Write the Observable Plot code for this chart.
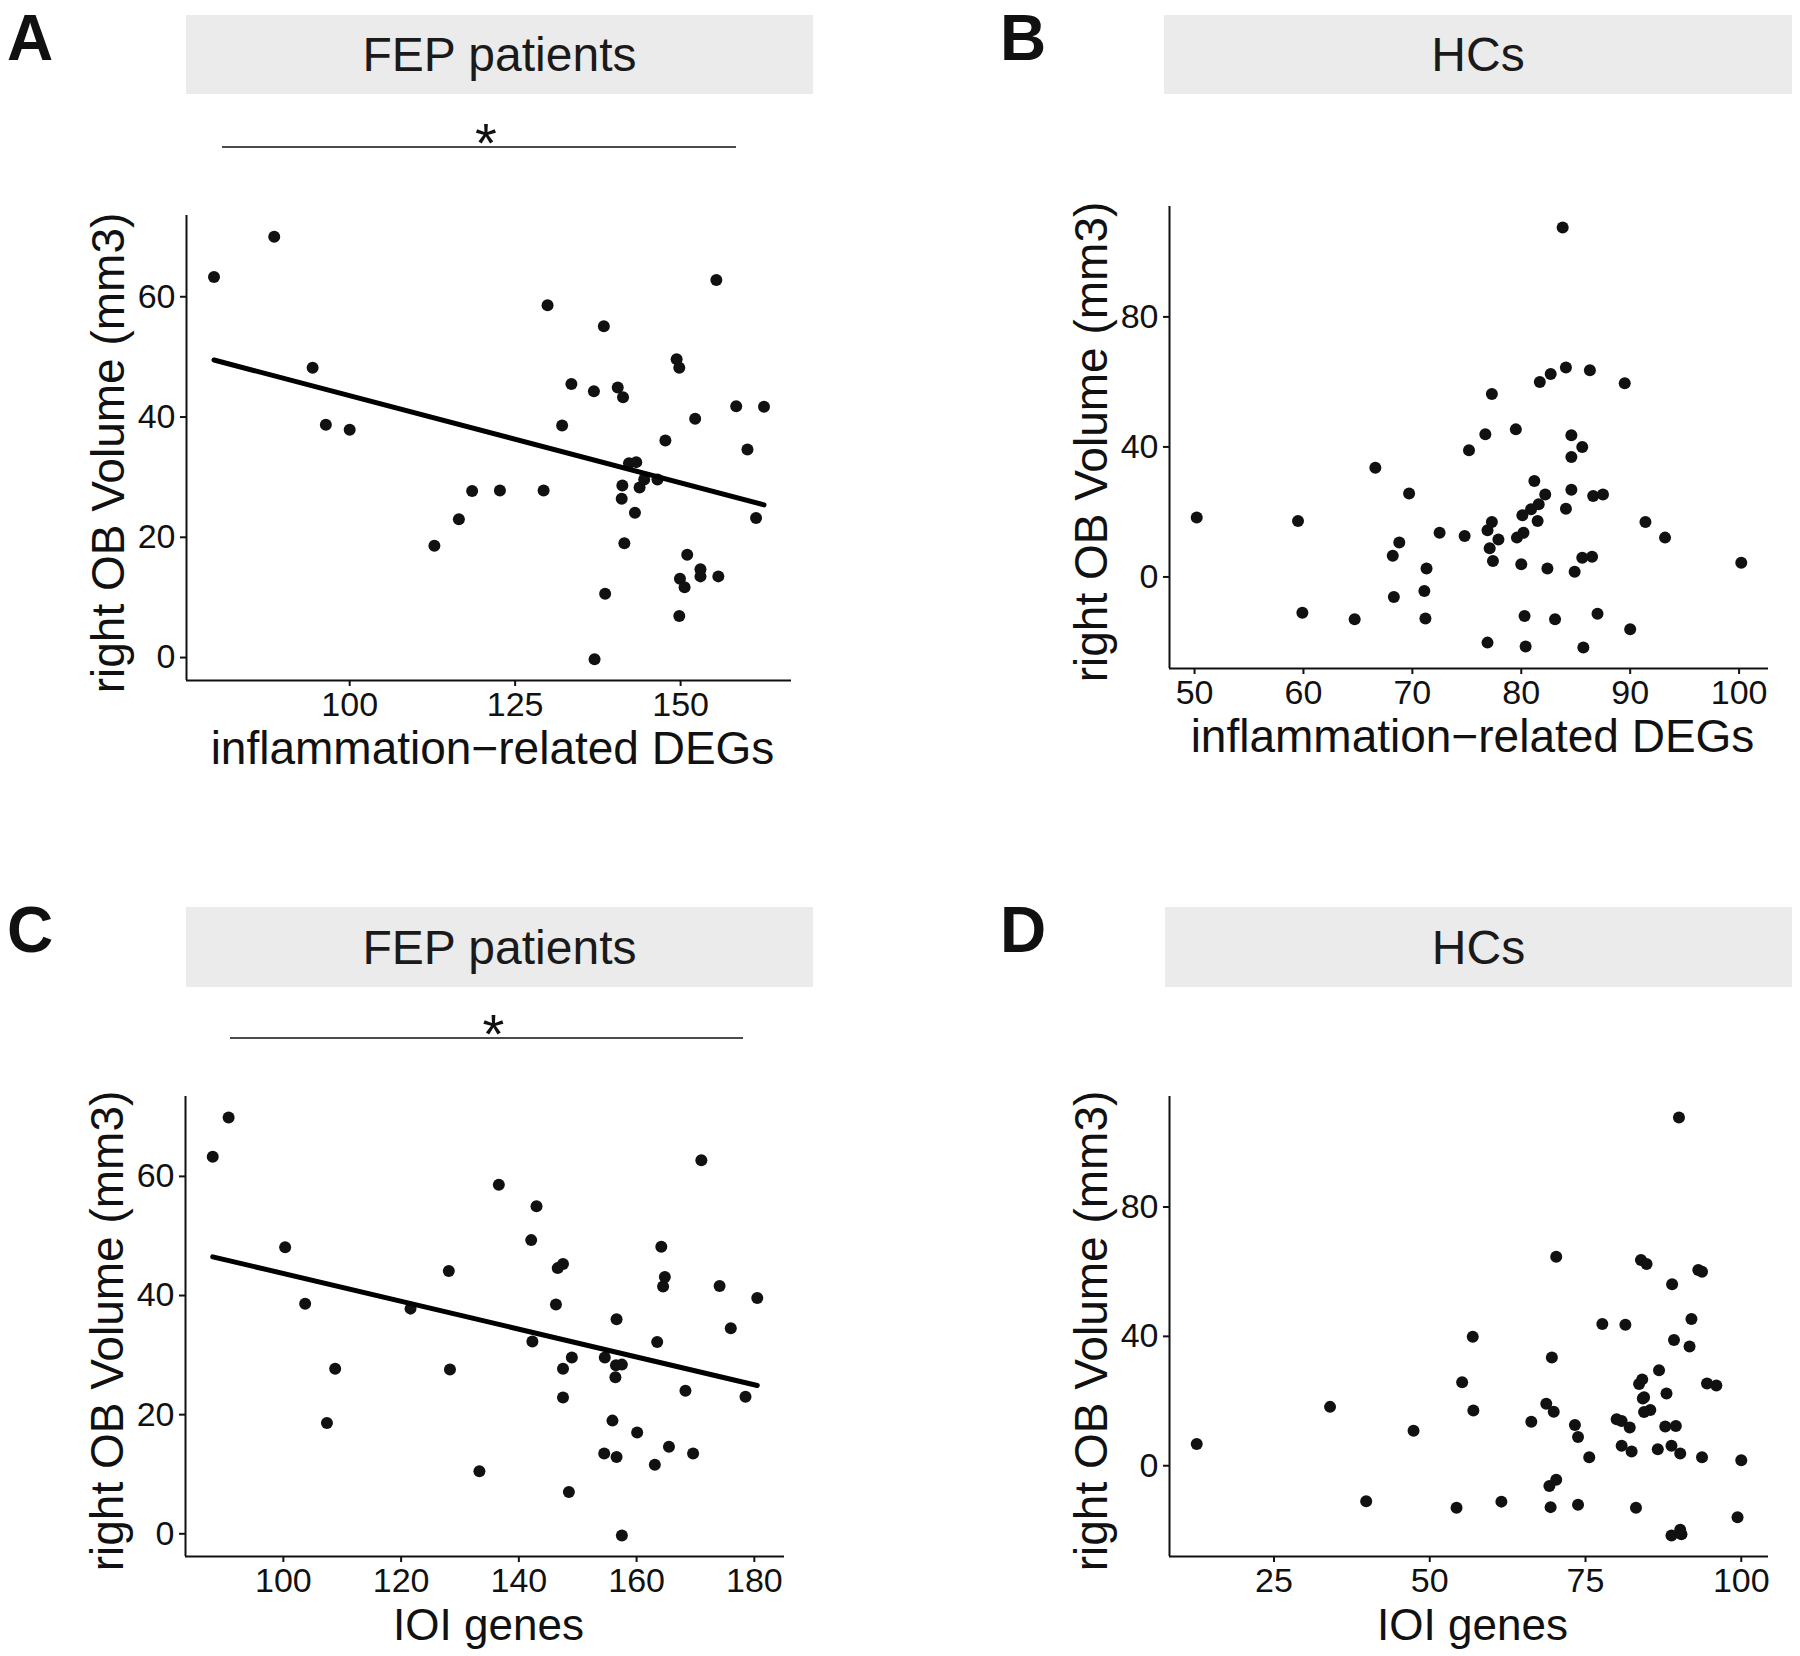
<!DOCTYPE html>
<html><head><meta charset="utf-8">
<script src="https://cdn.jsdelivr.net/npm/d3@7"></script>
<script src="https://cdn.jsdelivr.net/npm/@observablehq/plot@0.6"></script>
<style>
html,body{margin:0;padding:0;background:#fff;}
#fig{position:relative;width:1800px;height:1656px;background:#fff;font-family:"Liberation Sans",Arial,Helvetica,sans-serif;color:#111;overflow:hidden;}
.abs{position:absolute;}
.letter{font-weight:bold;font-size:64px;line-height:1;color:#111;}
.strip{background:#ebebeb;display:flex;align-items:center;justify-content:center;font-size:48px;color:#1a1a1a;}
.title{font-size:46px;white-space:nowrap;line-height:1.2;color:#111;}
</style></head><body><div id="fig"></div>
<script>
// ---- Data ----
// A: FEP patients, inflammation-related DEGs vs right OB volume
const fepInflamX = [79.5, 88.6, 94.4, 96.4, 100.0, 112.8, 116.5, 118.5, 122.7, 129.3, 129.9, 132.1, 133.5, 136.9, 137.0, 138.4, 138.6, 140.5, 141.3, 141.2, 141.1, 141.5, 142.2, 143.3, 143.1, 143.8, 144.5, 146.5, 147.7, 149.4, 149.8, 149.9, 150.6, 149.8, 151.0, 152.2, 153.0, 153.0, 155.4, 155.7, 158.4, 160.1, 161.4, 162.6];
const fepInflamY = [63.3, 70.0, 48.2, 38.7, 37.9, 18.6, 23.0, 27.7, 27.8, 27.8, 58.6, 38.6, 45.5, 44.3, -0.3, 55.1, 10.6, 44.9, 43.3, 28.6, 26.4, 19.0, 32.3, 32.5, 24.1, 28.3, 29.6, 29.6, 36.1, 49.6, 48.2, 13.1, 11.7, 6.9, 17.1, 39.7, 14.7, 13.5, 62.8, 13.5, 41.8, 34.6, 23.2, 41.7];
// B: HCs, inflammation-related DEGs
const hcInflamX = [50.2, 59.5, 59.9, 64.7, 66.6, 68.2, 68.3, 68.8, 69.7, 71.1, 71.2, 71.3, 72.5, 74.8, 75.2, 76.7, 76.9, 76.9, 77.1, 77.3, 77.3, 77.4, 77.9, 79.5, 79.6, 80.0, 80.1, 80.2, 80.3, 80.4, 80.9, 81.2, 81.5, 81.6, 81.7, 82.2, 82.4, 82.7, 83.1, 83.8, 84.1, 84.1, 84.6, 84.6, 84.6, 84.9, 85.6, 85.6, 85.7, 86.3, 86.5, 86.6, 87.0, 87.5, 89.5, 90.0, 91.4, 93.2, 100.2];
const hcInflamY = [18.3, 17.2, -11.0, -13.0, 33.6, 6.5, -6.2, 10.6, 25.7, -4.3, -12.8, 2.6, 13.6, 12.6, 39.0, 43.9, 14.4, -20.2, 8.8, 16.9, 56.3, 4.9, 11.5, 45.4, 12.1, 3.9, 19.0, 13.6, -12.0, -21.4, 20.8, 29.5, 17.2, 22.4, 60.0, 25.4, 2.6, 62.4, -13.0, 107.5, 21.0, 64.4, 43.6, 36.9, 26.8, 1.6, 40.0, 5.9, -21.7, 63.6, 6.2, 24.9, -11.3, 25.4, 59.6, -16.1, 16.9, 12.1, 4.4];
// C: FEP patients, IOI genes
const fepIoiX = [88.0, 90.7, 100.3, 103.7, 107.4, 108.8, 121.6, 128.1, 128.3, 133.3, 136.6, 142.1, 142.3, 143.0, 146.3, 146.6, 147.5, 147.5, 147.5, 148.5, 149.0, 154.5, 154.6, 155.9, 156.4, 156.5, 156.6, 156.6, 157.5, 157.5, 160.1, 163.1, 163.5, 164.2, 164.5, 164.8, 165.5, 168.3, 169.6, 171.0, 174.1, 176.0, 178.5, 180.5];
const fepIoiY = [63.3, 69.9, 48.1, 38.6, 18.6, 27.7, 37.8, 44.1, 27.6, 10.5, 58.6, 49.3, 32.3, 55.0, 38.5, 44.6, 45.3, 27.7, 22.9, 7.0, 29.6, 13.5, 29.6, 19.0, 26.3, 28.3, 36.0, 12.9, 28.4, -0.3, 17.0, 11.6, 32.2, 48.2, 41.5, 43.1, 14.6, 24.0, 13.5, 62.7, 41.6, 34.5, 23.0, 39.6];
// D: HCs, IOI genes
const hcIoiX = [12.6, 34.0, 39.8, 47.4, 54.3, 55.2, 56.9, 57.0, 61.5, 66.3, 68.7, 69.2, 69.4, 69.6, 69.9, 70.3, 70.3, 73.3, 73.8, 73.8, 75.6, 77.7, 80.0, 80.8, 80.8, 81.4, 82.1, 82.4, 83.1, 83.6, 83.9, 84.1, 84.2, 84.4, 84.4, 84.8, 85.4, 86.6, 86.8, 87.8, 88.0, 88.8, 88.8, 88.9, 89.2, 89.5, 90.0, 90.2, 90.2, 90.4, 91.7, 92.0, 93.1, 93.7, 93.7, 94.5, 96.0, 99.4, 100.0];
const hcIoiY = [6.7, 18.2, -11.0, 10.8, -13.0, 25.8, 39.9, 17.1, -11.1, 13.6, 19.2, -6.3, -12.8, 33.5, 16.7, 64.6, -4.3, 12.6, 8.9, -12.1, 2.6, 43.8, 14.4, 13.8, 6.2, 43.6, 11.8, 4.4, -13.0, 25.3, 63.6, 26.7, 20.8, 21.2, 16.6, 62.4, 17.2, 5.1, 29.5, 12.1, 22.3, 6.2, -21.6, 56.1, 38.9, 12.3, 107.7, 3.8, -19.8, -21.2, 36.9, 45.4, 60.5, 60.0, 2.6, 25.4, 24.8, -15.9, 1.7];

// ---- Tick labels / text ----
const xTicksA = [100, 125, 150];
const xTicksB = [50, 60, 70, 80, 90, 100];
const xTicksC = [100, 120, 140, 160, 180];
const xTicksD = [25, 50, 75, 100];
const yTicksFep = [0, 20, 40, 60];
const yTicksHc = [0, 40, 80];
const panelLetters = ["A", "B", "C", "D"];
const stripLabels = ["FEP patients", "HCs", "FEP patients", "HCs"];
const xTitles = ["inflammation\u2212related DEGs", "inflammation\u2212related DEGs", "IOI genes", "IOI genes"];
const yTitle = "right OB Volume (mm3)";
const sigLabel = "*";

const FONT = '"Liberation Sans", Arial, Helvetica, sans-serif';
const fig = document.getElementById("fig");

const panels = [
  {xs: fepInflamX, ys: fepInflamY, xTicks: xTicksA, yTicks: yTicksFep, fit: true, xTitleSize: 46,
   frame: {l: 186, t: 215, r: 791, b: 680}, letterPos: [7, 6], strip: [186, 15, 627, 79], sig: [222, 736, 147]},
  {xs: hcInflamX, ys: hcInflamY, xTicks: xTicksB, yTicks: yTicksHc, fit: false, xTitleSize: 46,
   frame: {l: 1169, t: 206, r: 1768, b: 668}, letterPos: [1000, 6], strip: [1164, 15, 628, 79], sig: null},
  {xs: fepIoiX, ys: fepIoiY, xTicks: xTicksC, yTicks: yTicksFep, fit: true, xTitleSize: 44,
   frame: {l: 185, t: 1096, r: 784, b: 1556}, letterPos: [7, 898], strip: [186, 907, 627, 80], sig: [230, 743, 1038]},
  {xs: hcIoiX, ys: hcIoiY, xTicks: xTicksD, yTicks: yTicksHc, fit: false, xTitleSize: 44,
   frame: {l: 1169, t: 1096, r: 1768, b: 1556}, letterPos: [1000, 898], strip: [1165, 907, 627, 80], sig: null}
];

function addDiv(cls, text, css) {
  const d = document.createElement("div");
  d.className = "abs " + cls;
  d.textContent = text;
  Object.assign(d.style, css);
  fig.appendChild(d);
  return d;
}

// annotation overlay (significance bars)
const ns = "http://www.w3.org/2000/svg";
const over = document.createElementNS(ns, "svg");
over.setAttribute("width", 1800); over.setAttribute("height", 1656);
over.style.position = "absolute"; over.style.left = "0"; over.style.top = "0";

panels.forEach((p, i) => {
  addDiv("letter", panelLetters[i], {left: p.letterPos[0] + "px", top: p.letterPos[1] + "px"});
  addDiv("strip", stripLabels[i], {left: p.strip[0] + "px", top: p.strip[1] + "px", width: p.strip[2] + "px", height: p.strip[3] + "px"});

  const data = p.xs.map((x, k) => ({x, y: p.ys[k]}));
  const [x0, x1] = d3.extent(p.xs), [y0, y1] = d3.extent(p.ys);
  const xd = [x0 - (x1 - x0) * 0.05, x1 + (x1 - x0) * 0.05];
  const yd = [y0 - (y1 - y0) * 0.05, y1 + (y1 - y0) * 0.05];
  const mL = 90, mT = 10, mR = 40, mB = 70;
  const fw = p.frame.r - p.frame.l, fh = p.frame.b - p.frame.t;
  const marks = [
    Plot.ruleX([xd[0]], {stroke: "#111", strokeWidth: 2}),
    Plot.ruleY([yd[0]], {stroke: "#111", strokeWidth: 2}),
    Plot.axisX({ticks: p.xTicks, tickSize: 6, tickPadding: 5, fontSize: 34, label: null, color: "#111", strokeWidth: 2}),
    Plot.axisY({ticks: p.yTicks, tickSize: 6, tickPadding: 5, fontSize: 34, label: null, color: "#111", strokeWidth: 2}),
    Plot.dot(data, {x: "x", y: "y", r: 6, fill: "#111", stroke: null})
  ];
  if (p.fit) marks.push(Plot.linearRegressionY(data, {x: "x", y: "y", ci: 0, stroke: "#000", strokeWidth: 5}));
  const svg = Plot.plot({
    width: fw + mL + mR, height: fh + mT + mB,
    marginLeft: mL, marginTop: mT, marginRight: mR, marginBottom: mB, inset: 0,
    x: {domain: xd}, y: {domain: yd},
    style: {fontFamily: FONT, background: "transparent", overflow: "visible", color: "#111"},
    marks
  });
  svg.style.position = "absolute";
  svg.style.left = (p.frame.l - mL) + "px";
  svg.style.top = (p.frame.t - mT) + "px";
  fig.appendChild(svg);

  const cx = (p.frame.l + p.frame.r) / 2, cy = (p.frame.t + p.frame.b) / 2;
  addDiv("title", xTitles[i], {left: (cx + 4) + "px", top: (p.frame.b + 69) + "px", fontSize: p.xTitleSize + "px", transform: "translate(-50%,-50%)"});
  addDiv("title", yTitle, {left: (p.frame.l - 77) + "px", top: (cy + 5) + "px", transform: "translate(-50%,-50%) rotate(-90deg)"});

  if (p.sig) {
    const ln = document.createElementNS(ns, "line");
    ln.setAttribute("x1", p.sig[0]); ln.setAttribute("x2", p.sig[1]);
    ln.setAttribute("y1", p.sig[2]); ln.setAttribute("y2", p.sig[2]);
    ln.setAttribute("stroke", "#111"); ln.setAttribute("stroke-width", 1.6);
    over.appendChild(ln);
    const t = document.createElementNS(ns, "text");
    t.setAttribute("x", (p.sig[0] + p.sig[1]) / 2 + 7);
    t.setAttribute("y", p.sig[2] + 15);
    t.setAttribute("text-anchor", "middle");
    t.setAttribute("font-family", FONT);
    t.setAttribute("font-size", 56);
    t.setAttribute("fill", "#111");
    t.textContent = sigLabel;
    over.appendChild(t);
  }
});
fig.appendChild(over);
</script></body></html>
